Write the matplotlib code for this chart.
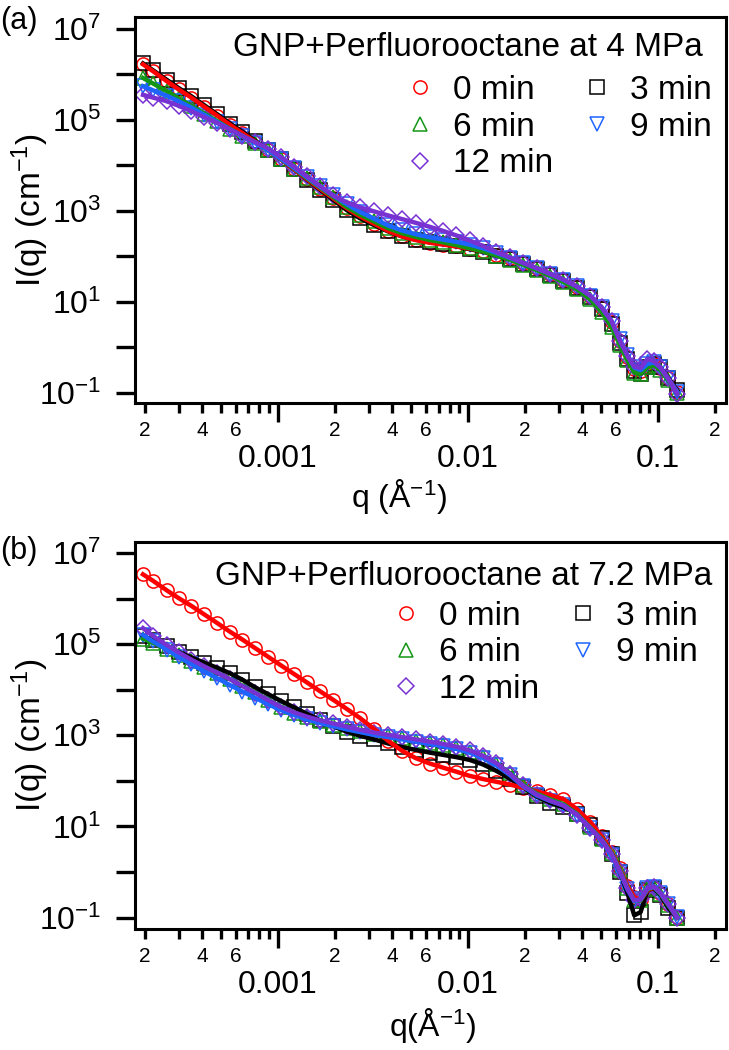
import numpy as np
import matplotlib
matplotlib.use('Agg')
import matplotlib.pyplot as plt
from matplotlib.ticker import FixedLocator, FuncFormatter

plt.rcParams['font.family'] = 'Liberation Sans'
plt.rcParams['mathtext.fontset'] = 'custom'
plt.rcParams['mathtext.rm'] = 'Liberation Sans'
plt.rcParams['mathtext.it'] = 'Liberation Sans:italic'

# q grid (1/A), shared by all curves
q = [1.95e-4, 2.2e-4, 2.6e-4, 3.0e-4, 3.5e-4, 4.1e-4, 4.8e-4, 5.6e-4, 6.5e-4, 7.6e-4,
     8.9e-4, 1.04e-3, 1.22e-3, 1.42e-3, 1.66e-3, 1.95e-3, 2.3e-3, 2.7e-3, 3.2e-3, 3.8e-3,
     4.5e-3, 5.3e-3, 6.3e-3, 7.4e-3, 8.7e-3, 0.0102, 0.012, 0.0141, 0.0166, 0.0195,
     0.023, 0.027, 0.0318, 0.0374, 0.044, 0.0505, 0.057, 0.063, 0.069, 0.075,
     0.081, 0.088, 0.095, 0.103, 0.113, 0.126]

labels = ['0 min', '3 min', '6 min', '9 min', '12 min']

# log10 I(q), panel (a) 4 MPa
a_0min = [6.22, 6.07, 5.85, 5.67, 5.49, 5.29, 5.09, 4.89, 4.71, 4.52,
          4.33, 4.13, 3.91, 3.70, 3.49, 3.28, 3.06, 2.88, 2.72, 2.56,
          2.44, 2.36, 2.30, 2.26, 2.22, 2.17, 2.11, 2.04, 1.96, 1.86,
          1.74, 1.62, 1.49, 1.33, 1.12, 0.86, 0.56, 0.15, -0.20, -0.47,
          -0.52, -0.40, -0.36, -0.46, -0.68, -0.97]
a_3min = [6.24, 6.09, 5.88, 5.70, 5.52, 5.32, 5.12, 4.92, 4.74, 4.54,
          4.34, 4.13, 3.91, 3.69, 3.47, 3.25, 3.02, 2.84, 2.69, 2.55,
          2.44, 2.37, 2.31, 2.27, 2.22, 2.16, 2.10, 2.02, 1.94, 1.84,
          1.72, 1.60, 1.46, 1.30, 1.10, 0.84, 0.52, 0.10, -0.25, -0.52,
          -0.58, -0.42, -0.36, -0.44, -0.66, -0.94]
a_6min = [5.92, 5.80, 5.63, 5.47, 5.31, 5.14, 4.97, 4.80, 4.65, 4.50,
          4.33, 4.14, 3.93, 3.72, 3.52, 3.31, 3.09, 2.92, 2.77, 2.62,
          2.51, 2.43, 2.36, 2.31, 2.25, 2.18, 2.11, 2.02, 1.93, 1.82,
          1.70, 1.58, 1.44, 1.28, 1.06, 0.78, 0.45, 0.05, -0.28, -0.55,
          -0.58, -0.43, -0.39, -0.49, -0.72, -1.00]
a_9min = [5.74, 5.65, 5.53, 5.41, 5.27, 5.11, 4.95, 4.79, 4.64, 4.49,
          4.33, 4.14, 3.94, 3.74, 3.54, 3.34, 3.15, 2.98, 2.83, 2.68,
          2.57, 2.49, 2.42, 2.37, 2.32, 2.26, 2.18, 2.08, 1.97, 1.86,
          1.74, 1.62, 1.49, 1.34, 1.14, 0.88, 0.58, 0.18, -0.16, -0.44,
          -0.50, -0.36, -0.33, -0.44, -0.68, -0.97]
a_12min = [5.55, 5.49, 5.41, 5.31, 5.19, 5.06, 4.93, 4.79, 4.65, 4.51,
           4.37, 4.18, 3.97, 3.76, 3.55, 3.34, 3.19, 3.08, 2.99, 2.90,
           2.82, 2.74, 2.65, 2.56, 2.46, 2.35, 2.23, 2.10, 1.98, 1.86,
           1.74, 1.62, 1.49, 1.34, 1.14, 0.88, 0.58, 0.15, -0.18, -0.42,
           -0.45, -0.25, -0.30, -0.44, -0.68, -1.02]

# log10 I(q), panel (b) 7.2 MPa
b_0min = [6.53, 6.39, 6.18, 6.01, 5.84, 5.65, 5.46, 5.27, 5.10, 4.91,
          4.72, 4.53, 4.34, 4.16, 3.97, 3.78, 3.58, 3.38, 3.14, 2.88,
          2.66, 2.50, 2.38, 2.29, 2.20, 2.11, 2.04, 1.98, 1.92, 1.85,
          1.77, 1.69, 1.60, 1.38, 1.10, 0.78, 0.45, 0.08, -0.30, -0.55,
          -0.62, -0.40, -0.34, -0.46, -0.70, -0.98]
b_3min = [5.18, 5.08, 4.95, 4.83, 4.71, 4.59, 4.48, 4.36, 4.22, 4.05,
          3.90, 3.75, 3.61, 3.47, 3.33, 3.20, 3.08, 2.99, 2.91, 2.82,
          2.74, 2.68, 2.62, 2.57, 2.52, 2.46, 2.36, 2.22, 2.05, 1.86,
          1.66, 1.52, 1.42, 1.28, 1.04, 0.74, 0.40, 0.00, -0.45, -0.95,
          -0.88, -0.40, -0.36, -0.50, -0.78, -1.00]
b_6min = [5.12, 5.03, 4.90, 4.77, 4.64, 4.50, 4.37, 4.23, 4.09, 3.94,
          3.78, 3.62, 3.49, 3.39, 3.31, 3.23, 3.16, 3.09, 3.03, 2.98,
          2.93, 2.88, 2.83, 2.78, 2.72, 2.64, 2.53, 2.38, 2.17, 1.92,
          1.72, 1.60, 1.49, 1.28, 0.98, 0.72, 0.42, 0.05, -0.35, -0.62,
          -0.62, -0.38, -0.33, -0.48, -0.72, -1.00]
b_9min = [5.20, 5.06, 4.88, 4.72, 4.56, 4.40, 4.25, 4.10, 3.96, 3.82,
          3.68, 3.55, 3.44, 3.35, 3.27, 3.20, 3.13, 3.07, 3.01, 2.96,
          2.91, 2.86, 2.81, 2.76, 2.70, 2.62, 2.50, 2.34, 2.13, 1.88,
          1.68, 1.56, 1.46, 1.26, 0.96, 0.70, 0.38, 0.00, -0.38, -0.64,
          -0.60, -0.36, -0.32, -0.46, -0.70, -0.98]
b_12min = [5.35, 5.18, 4.98, 4.82, 4.66, 4.51, 4.37, 4.23, 4.08, 3.93,
           3.77, 3.62, 3.50, 3.41, 3.33, 3.26, 3.19, 3.12, 3.06, 3.01,
           2.96, 2.91, 2.86, 2.81, 2.75, 2.67, 2.55, 2.39, 2.16, 1.90,
           1.70, 1.57, 1.46, 1.26, 0.96, 0.70, 0.40, 0.02, -0.36, -0.62,
           -0.60, -0.36, -0.32, -0.46, -0.70, -1.00]

colors = ['#ff0000', '#000000', '#149614', '#1e64ff', '#7832d2']
markers = ['o', 's', '^', 'v', 'D']
msizes = [9.5, 9.5, 9.5, 9.5, 8.5]
line_order = [1, 0, 2, 3, 4]       # black fit under red, purple on top
legend_order = [0, 2, 4, 1, 3]     # column 1: 0/6/12, column 2: 3/9


def x_minor_fmt(v, pos):
    m = int(round(v / 10 ** np.floor(np.log10(v) + 1e-9)))
    return str(m) if m in (2, 4, 6) else ''


def x_major_fmt(v, pos):
    return {1e-3: '0.001', 1e-2: '0.01', 1e-1: '0.1'}.get(v, '')


def y_fmt(v, pos):
    e = int(round(np.log10(v)))
    return r'$10^{%d}$' % e if e % 2 == 1 else ''


def draw_panel(ax, series, title, title_pos, leg_anchor, xlabel, xlab_pos, ylims):
    qa = np.array(q)
    handles = []
    for s, c, m, ms in zip(series, colors, markers, msizes):
        h, = ax.plot(qa, 10 ** np.array(s), ls='none', marker=m, ms=ms,
                     mfc='none', mec=c, mew=1.1, zorder=2)
        handles.append(h)
    for i in line_order:
        ax.plot(qa, 10 ** np.array(series[i]), color=colors[i], lw=3.2, zorder=3)

    ax.set_xscale('log')
    ax.set_yscale('log')
    ax.set_xlim(1.77e-4, 0.228)
    ax.set_ylim(*ylims)

    ax.xaxis.set_major_locator(FixedLocator([1e-3, 1e-2, 1e-1]))
    mins = [m * 10.0 ** d for d in (-4, -3, -2, -1) for m in range(2, 10)]
    ax.xaxis.set_minor_locator(FixedLocator(mins))
    ax.xaxis.set_major_formatter(FuncFormatter(x_major_fmt))
    ax.xaxis.set_minor_formatter(FuncFormatter(x_minor_fmt))
    ax.yaxis.set_major_locator(FixedLocator([10.0 ** e for e in range(-1, 8)]))
    ax.yaxis.set_minor_locator(FixedLocator([]))
    ax.yaxis.set_major_formatter(FuncFormatter(y_fmt))

    ax.tick_params(axis='x', which='major', direction='out', length=13.5,
                   width=2.4, pad=16, labelsize=23)
    ax.tick_params(axis='x', which='minor', direction='out', length=7,
                   width=2.4, pad=6, labelsize=15)
    ax.tick_params(axis='y', which='major', direction='out', length=13.5,
                   width=2.4, pad=11, labelsize=23)
    ax.tick_params(top=False, right=False)
    for sp in ax.spines.values():
        sp.set_linewidth(2.2)

    ax.set_xlabel(xlabel, fontsize=23)
    ax.xaxis.set_label_coords(*xlab_pos)
    ax.set_ylabel('I(q) (cm$^{-1}$)', fontsize=24)
    ax.yaxis.set_label_coords(-0.142, 0.5)

    ax.text(title_pos[0], title_pos[1], title, transform=ax.transAxes,
            fontsize=24, ha='right', va='center')
    ax.legend([handles[i] for i in legend_order], [labels[i] for i in legend_order],
              ncol=2, loc='upper right', bbox_to_anchor=leg_anchor,
              frameon=False, fontsize=24, handlelength=1.0, handletextpad=0.49,
              columnspacing=0.82, labelspacing=0.17, borderpad=0.0,
              borderaxespad=0.0, numpoints=1)


fig = plt.figure(figsize=(7.29, 10.5), dpi=100)
ax1 = fig.add_axes([135 / 729, 1 - 403 / 1050, 591 / 729, 386 / 1050])
ax2 = fig.add_axes([135 / 729, 1 - 929 / 1050, 591 / 729, 387 / 1050])

draw_panel(ax1, [a_0min, a_3min, a_6min, a_9min, a_12min],
           'GNP+Perfluorooctane at 4 MPa', (0.961, 0.922), (0.976, 0.850),
           'q (Å$^{-1}$)', (0.447, -0.192), (10 ** -1.22, 10 ** 7.26))
draw_panel(ax2, [b_0min, b_3min, b_6min, b_9min, b_12min],
           'GNP+Perfluorooctane at 7.2 MPa', (0.976, 0.912), (0.953, 0.848),
           'q(Å$^{-1}$)', (0.504, -0.20), (10 ** -1.25, 10 ** 7.24))

fig.text(0.0, 1 - 21 / 1050, '(a)', fontsize=22, ha='left', va='center')
fig.text(0.0, 1 - 551 / 1050, '(b)', fontsize=22, ha='left', va='center')

fig.savefig('out.png', dpi=100)
